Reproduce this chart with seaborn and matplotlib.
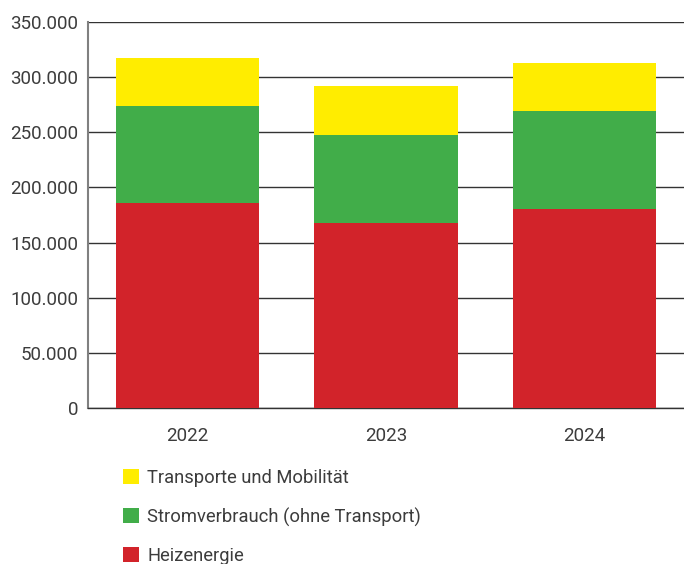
import pandas as pd
import seaborn as sns
import matplotlib.pyplot as plt
from matplotlib.patches import Patch
from matplotlib.ticker import FuncFormatter, MultipleLocator

years = ['2022', '2023', '2024']
heizenergie = [186300, 167300, 180000]
strom = [87700, 80400, 89400]
transport = [43400, 44300, 43400]
labels = ['Transporte und Mobilität', 'Stromverbrauch (ohne Transport)', 'Heizenergie']
colors = ['#FFED00', '#41AD49', '#D2232A']

df = pd.DataFrame({'Jahr': years, 'Heiz': heizenergie, 'Strom': strom, 'Transport': transport})
df['c1'] = df['Heiz']
df['c2'] = df['Heiz'] + df['Strom']
df['c3'] = df['c2'] + df['Transport']

sns.set_style('white')
plt.rcParams['font.family'] = ['Roboto', 'DejaVu Sans']
txt = '#3c3c3c'

fig = plt.figure(figsize=(6.84, 5.64), dpi=100)
ax = fig.add_axes([88 / 684, 1 - 408 / 564, 1 - 88 / 684, 386 / 564])

# stacked: draw the cumulative totals back to front
for col, c in zip(['c3', 'c2', 'c1'], colors):
    sns.barplot(data=df, x='Jahr', y=col, color=c, width=0.72, saturation=1,
                linewidth=0, ax=ax, zorder=3)

ax.set_ylim(0, 350000)
ax.set_xlim(-0.5, 2.5)
ax.yaxis.set_major_locator(MultipleLocator(50000))
ax.yaxis.set_major_formatter(FuncFormatter(lambda v, p: f'{v:,.0f}'.replace(',', '.')))
ax.grid(axis='y', color='#333333', lw=1, zorder=0)
ax.set_axisbelow(True)
for s in ['top', 'right']:
    ax.spines[s].set_visible(False)
ax.spines['bottom'].set_color('#333333')
ax.spines['bottom'].set_linewidth(1)
ax.spines['left'].set_color('#808080')
ax.spines['left'].set_linewidth(1.5)
ax.tick_params(axis='y', length=0, pad=7, labelsize=13.5, labelcolor=txt)
ax.tick_params(axis='x', length=0, pad=14, labelsize=13.5, labelcolor=txt)
ax.set_xlabel('')
ax.set_ylabel('')

handles = [Patch(facecolor=c, edgecolor='none') for c in colors]
fig.legend(handles, labels, loc='upper left', bbox_to_anchor=(114 / 684, 1 - 460 / 564),
           frameon=False, fontsize=13.2, handlelength=0.87, handleheight=0.87,
           handletextpad=0.45, labelspacing=1.1, labelcolor=txt, borderpad=0)

fig.savefig('out.png', dpi=100)
